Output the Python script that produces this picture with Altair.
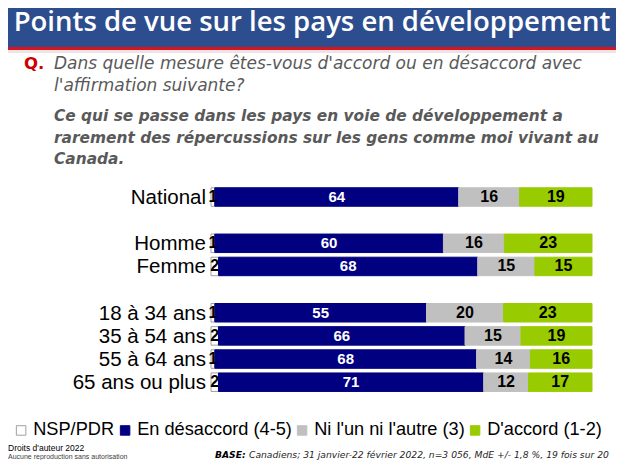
import altair as alt
import pandas as pd

# ---- data ----
categories = ["National", "Homme", "Femme", "18 à 34 ans", "35 à 54 ans", "55 à 64 ans", "65 ans ou plus"]
row_slots = [0, 2, 3, 5, 6, 7, 8]
segments = ["NSP/PDR", "En désaccord (4-5)", "Ni l'un ni l'autre (3)", "D'accord (1-2)"]
nsp = [1, 1, 2, 1, 2, 1, 2]
desaccord = [64, 60, 68, 55, 66, 68, 71]
ni_ni = [16, 16, 15, 20, 15, 14, 12]
accord = [19, 23, 15, 23, 19, 16, 17]
seg_colors = ["#FFFFFF", "#000080", "#C0C0C0", "#99CC00"]
seg_strokes = ["#A0A0A0", "#000080", "#C0C0C0", "#99CC00"]

rows = []
for i, cat in enumerate(categories):
    vals = [nsp[i], desaccord[i], ni_ni[i], accord[i]]
    total = sum(vals)
    cum = 0
    for s, v in zip(segments, vals):
        start = cum / total * 100
        cum += v
        end = cum / total * 100
        rows.append({"cat": cat, "slot": row_slots[i], "seg": s, "value": v,
                     "start": start, "end": end, "mid": (start + end) / 2})
df = pd.DataFrame(rows)
cats_df = pd.DataFrame({"cat": categories, "slot": row_slots})
one = pd.DataFrame({"a": [0]})

W, H = 608, 452
xs = alt.Scale(domain=[0, 100], range=[203, 584], nice=False, zero=False)
ys = alt.Scale(domain=[0, 8], range=[184, 379.2], nice=False, zero=False)


def rect(x, x2, y, y2, color):
    return alt.Chart(one).mark_rect(color=color).encode(
        x=alt.value(x), x2=alt.value(x2), y=alt.value(y), y2=alt.value(y2))


def txt(text, x, y, size, font="Liberation Sans", color="black", weight="normal",
        style="normal", align="left"):
    return alt.Chart(one).mark_text(
        text=text, font=font, fontSize=size, color=color, fontWeight=weight,
        fontStyle=style, align=align, baseline="alphabetic").encode(
        x=alt.value(x), y=alt.value(y))


title_bar = rect(0, W, 0, 39, "#2D4E8E")
red_line = rect(0, W, 39, 42, "#D9141E")
pink_line = rect(0, W, 42, 45, "#EFE3E3")
title = txt("Points de vue sur les pays en développement", 304, 23, 27.5,
            font="Open Sans", color="white", weight=600, align="center")

q_mark = txt("Q.", 16, 61, 16.5, font="DejaVu Sans", color="#CC0000", weight="bold")
q1 = txt("Dans quelle mesure êtes-vous d'accord ou en désaccord avec", 46, 61, 17,
         font="DejaVu Sans", color="#595959", style="italic")
q2 = txt("l'affirmation suivante?", 46, 83, 17,
         font="DejaVu Sans", color="#595959", style="italic")
b1 = txt("Ce qui se passe dans les pays en voie de développement a", 46, 113, 15.4,
         font="DejaVu Sans", color="#595959", style="italic", weight="bold")
b2 = txt("rarement des répercussions sur les gens comme moi vivant au", 46, 135, 15.4,
         font="DejaVu Sans", color="#595959", style="italic", weight="bold")
b3 = txt("Canada.", 46, 156, 15.4,
         font="DejaVu Sans", color="#595959", style="italic", weight="bold")

legend_kw = dict(orient="none", legendX=4, legendY=413, direction="horizontal",
                 title=None, symbolType="square", symbolSize=90, padding=0,
                 labelFont="Liberation Sans", labelFontSize=18.2, labelColor="black",
                 columnPadding=1, labelOffset=3, symbolStrokeWidth=1)

bars = alt.Chart(df).mark_bar(size=18.5, orient="horizontal", strokeWidth=1).encode(
    x=alt.X("start:Q", scale=xs, axis=None),
    x2="end:Q",
    y=alt.Y("slot:Q", scale=ys, axis=None),
    color=alt.Color("seg:N", scale=alt.Scale(domain=segments, range=seg_colors),
                    legend=alt.Legend(**legend_kw)),
    stroke=alt.Stroke("seg:N", scale=alt.Scale(domain=segments, range=seg_strokes),
                      legend=alt.Legend(**legend_kw)),
)

lab_blue = alt.Chart(df).transform_filter(alt.datum.seg == segments[1]).mark_text(
    font="Liberation Sans", fontSize=15, fontWeight="bold", color="white",
    baseline="middle").encode(
    x=alt.X("mid:Q", scale=xs), y=alt.Y("slot:Q", scale=ys), text="value:Q")

lab_dark = alt.Chart(df).transform_filter(
    (alt.datum.seg == segments[2]) | (alt.datum.seg == segments[3]) | (alt.datum.seg == segments[0])
).mark_text(font="Liberation Sans", fontSize=16, fontWeight="bold", color="black",
            baseline="middle").encode(
    x=alt.X("mid:Q", scale=xs), y=alt.Y("slot:Q", scale=ys), text="value:Q")

row_labels = alt.Chart(cats_df).mark_text(
    font="Liberation Sans", fontSize=20.5, color="black", align="right",
    baseline="middle", dy=1).encode(
    x=alt.value(198), y=alt.Y("slot:Q", scale=ys), text="cat:N")

narrow = "Liberation Sans Narrow, Arial Narrow, Liberation Sans"
foot1 = txt("Droits d'auteur 2022", 0, 443, 8.5, font=narrow)
foot2 = txt("Aucune reproduction sans autorisation", 0, 451, 7, font=narrow, color="#404040")
base1 = txt("BASE:", 207, 450, 9.2, font="DejaVu Sans", weight="bold", style="italic")
base2 = txt("Canadiens; 31 janvier-22 février 2022, n=3 056, MdE +/- 1,8 %, 19 fois sur 20",
            241, 450, 9.2, font="DejaVu Sans", style="italic", color="#262626")

chart = alt.layer(
    title_bar, red_line, pink_line, title, q_mark, q1, q2, b1, b2, b3,
    bars, lab_blue, lab_dark, row_labels, foot1, foot2, base1, base2
).properties(
    width=W, height=H, autosize=alt.AutoSizeParams(type="none"), padding=0
).configure_view(stroke=None)

chart.save("out.html", embed_options={"renderer": "svg", "actions": False})
